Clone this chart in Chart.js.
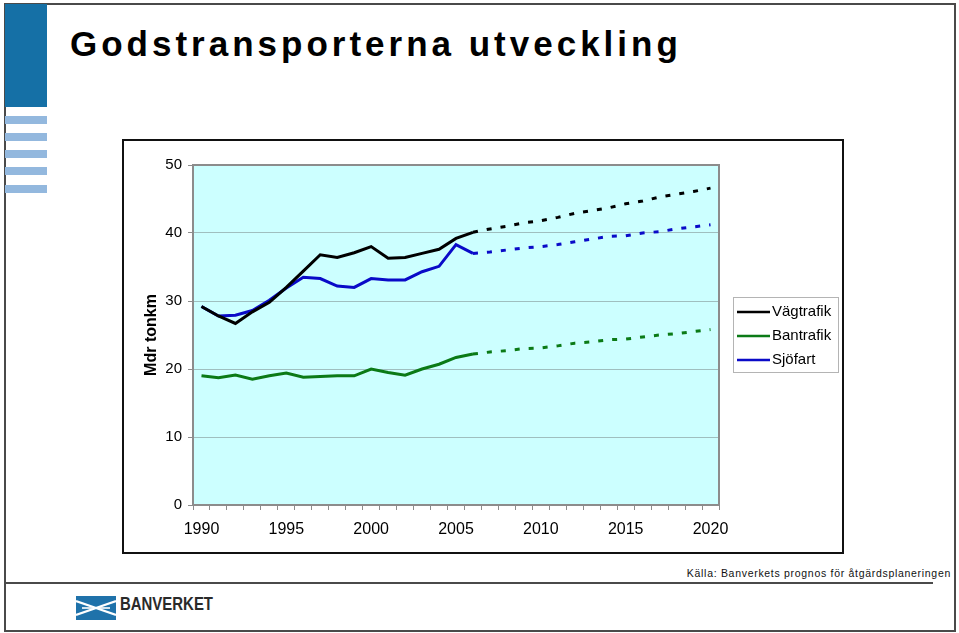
<!DOCTYPE html>
<html>
<head>
<meta charset="utf-8">
<script src="https://cdn.jsdelivr.net/npm/chart.js@4"></script>
<style>
  html, body { margin: 0; padding: 0; background: #fff; }
  body { width: 959px; height: 633px; position: relative; overflow: hidden; font-family: "Liberation Sans", Arial, sans-serif; }
  .frame { position: absolute; left: 4px; top: 3px; width: 952px; height: 629px; border: 2px solid #4a4a4a; box-sizing: border-box; }
  .bar { position: absolute; left: 5px; width: 42px; background: #1570a6; }
  .stripe { position: absolute; left: 5px; width: 42px; height: 8px; background: #93b8de; }
  h1 { position: absolute; left: 70px; top: 24px; margin: 0; font-size: 35px; font-weight: bold; letter-spacing: 4px; color: #000; white-space: nowrap; }
  .box { position: absolute; left: 122px; top: 139px; width: 722px; height: 415px; border: 2px solid #111; box-sizing: border-box; }
  .box canvas { position: absolute; left: 0; top: 0; }
  .source { position: absolute; right: 8px; top: 567px; font-size: 10.5px; letter-spacing: 0.7px; color: #111; white-space: nowrap; }
  .rule { position: absolute; left: 5px; top: 582px; width: 928px; height: 2px; background: #4a4a4a; }
  .logo { position: absolute; left: 76px; top: 596px; }
  .logo span { position: absolute; left: 44px; top: -2px; font-weight: bold; font-size: 18px; color: #2a2a2a; white-space: nowrap; transform: scaleX(0.83); transform-origin: left center; }
</style>
</head>
<body>
<div class="frame"></div>
<div class="bar" style="top:4px;height:103px"></div>
<div class="stripe" style="top:116px"></div>
<div class="stripe" style="top:133px"></div>
<div class="stripe" style="top:150px"></div>
<div class="stripe" style="top:167px"></div>
<div class="stripe" style="top:185px"></div>
<h1>Godstransporterna utveckling</h1>

<div class="box">
  <canvas id="chart" width="718" height="411" style="width:718px;height:411px"></canvas>
</div>

<div class="source">Källa: Banverkets prognos för åtgärdsplaneringen</div>
<div class="rule"></div>
<div class="logo">
  <svg width="40" height="24" viewBox="0 0 40 24">
    <rect width="40" height="24" fill="#1f72aa"/>
    <path d="M0 5 L20 12 L0 19" stroke="#fff" stroke-width="2.2" fill="none"/>
    <path d="M40 5 L20 12 L40 19" stroke="#fff" stroke-width="2.2" fill="none"/>
    <path d="M6 12 L34 12" stroke="#fff" stroke-width="1.6"/>
  </svg>
  <span>BANVERKET</span>
</div>

<script>
// years on the x axis
const years = [];
for (let y = 1990; y <= 2020; y++) years.push(String(y));

// historic values 1990-2006 (Mdr tonkm)
const vagHist = [29.2, 27.8, 26.7, 28.4, 29.8, 32.0, 34.4, 36.8, 36.4, 37.1, 38.0, 36.3, 36.4, 37.0, 37.6, 39.2, 40.1];
const banHist = [19.0, 18.7, 19.1, 18.5, 19.0, 19.4, 18.8, 18.9, 19.0, 19.0, 20.0, 19.5, 19.1, 20.0, 20.7, 21.7, 22.2];
const sjoHist = [29.2, 27.8, 27.9, 28.6, 30.1, 31.9, 33.5, 33.3, 32.2, 32.0, 33.3, 33.1, 33.1, 34.3, 35.1, 38.3, 37.0];

// forecast values 2006-2020
const vagProg = [40.1, 40.6, 41.0, 41.5, 41.8, 42.3, 42.9, 43.3, 43.7, 44.3, 44.7, 45.3, 45.7, 46.1, 46.6];
const banProg = [22.2, 22.5, 22.7, 23.0, 23.1, 23.4, 23.8, 24.0, 24.3, 24.4, 24.7, 25.0, 25.2, 25.5, 25.8];
const sjoProg = [37.0, 37.2, 37.5, 37.8, 38.0, 38.3, 38.7, 39.1, 39.5, 39.6, 40.0, 40.2, 40.6, 40.9, 41.2];

const seriesNames = ["Vägtrafik", "Bantrafik", "Sjöfart"];
const seriesColors = ["#000000", "#0b7a16", "#0a0ac8"];

const histLen = vagHist.length;
function hist(arr) {
  return arr.concat(new Array(years.length - arr.length).fill(null));
}
function prog(arr) {
  return new Array(histLen - 1).fill(null).concat(arr);
}

const datasets = [];
[vagHist, banHist, sjoHist].forEach((d, i) => {
  datasets.push({
    label: seriesNames[i],
    data: hist(d),
    borderColor: seriesColors[i],
    borderWidth: 3,
    pointRadius: 0,
    tension: 0,
    legend: true
  });
});
[vagProg, banProg, sjoProg].forEach((d, i) => {
  datasets.push({
    label: seriesNames[i] + " prognos",
    data: prog(d),
    borderColor: seriesColors[i],
    borderWidth: 3,
    borderDash: [5, 9],
    pointRadius: 0,
    tension: 0,
    legend: false
  });
});

// cyan plot background and grey frame
const plotArea = {
  id: "plotArea",
  beforeDraw(chart) {
    const { ctx, chartArea: a } = chart;
    ctx.save();
    ctx.fillStyle = "#ccffff";
    ctx.fillRect(a.left, a.top, a.right - a.left, a.bottom - a.top);
    ctx.restore();
  },
  afterDatasetsDraw(chart) {
    const { ctx, chartArea: a } = chart;
    ctx.save();
    ctx.strokeStyle = "#8c8c8c";
    ctx.lineWidth = 2;
    ctx.strokeRect(a.left, a.top, a.right - a.left, a.bottom - a.top);
    ctx.restore();
  }
};

// boxed legend to the right, solid series only
const boxLegend = {
  id: "boxLegend",
  afterDraw(chart) {
    const ctx = chart.ctx;
    const x = 609, y = 156, w = 105, h = 75;
    ctx.save();
    ctx.fillStyle = "#fff";
    ctx.fillRect(x, y, w, h);
    ctx.strokeStyle = "#b4b4b4";
    ctx.lineWidth = 1;
    ctx.strokeRect(x + 0.5, y + 0.5, w, h);
    ctx.font = "15px 'Liberation Sans', Arial, sans-serif";
    ctx.textBaseline = "middle";
    let row = 0;
    chart.data.datasets.forEach(ds => {
      if (!ds.legend) return;
      const cy = y + 15 + row * 24;
      ctx.strokeStyle = ds.borderColor;
      ctx.lineWidth = 2.5;
      ctx.beginPath();
      ctx.moveTo(x + 4, cy);
      ctx.lineTo(x + 37, cy);
      ctx.stroke();
      ctx.fillStyle = "#000";
      ctx.fillText(ds.label, x + 39, cy);
      row++;
    });
    ctx.restore();
  }
};

new Chart(document.getElementById("chart"), {
  type: "line",
  data: { labels: years, datasets: datasets },
  options: {
    responsive: false,
    animation: false,
    spanGaps: false,
    layout: { padding: { left: 0, right: 123, top: 24, bottom: 0 } },
    plugins: { legend: { display: false }, tooltip: { enabled: false } },
    scales: {
      x: {
        offset: true,
        afterFit(scale) { scale.height = 47; },
        grid: { offset: true, drawOnChartArea: false, drawTicks: true, tickLength: 5, color: "#8c8c8c" },
        border: { display: false },
        ticks: {
          autoSkip: false,
          maxRotation: 0,
          padding: 10,
          color: "#000",
          font: { family: "'Liberation Sans', Arial, sans-serif", size: 16 },
          callback(v, i) { return i % 5 === 0 ? this.getLabelForValue(v) : ""; }
        }
      },
      y: {
        min: 0,
        max: 50,
        afterFit(scale) { scale.width = 69; },
        grid: { color: "#9fbfbf", lineWidth: 1, tickLength: 5, tickColor: "#8c8c8c" },
        border: { display: false },
        ticks: {
          stepSize: 10,
          padding: 6,
          color: "#000",
          font: { family: "'Liberation Sans', Arial, sans-serif", size: 15 }
        },
        title: {
          display: true,
          text: "Mdr tonkm",
          color: "#000",
          padding: { top: 18, bottom: 0 },
          font: { family: "'Liberation Sans', Arial, sans-serif", size: 16, weight: "bold" }
        }
      }
    }
  },
  plugins: [plotArea, boxLegend]
});
</script>
</body>
</html>
